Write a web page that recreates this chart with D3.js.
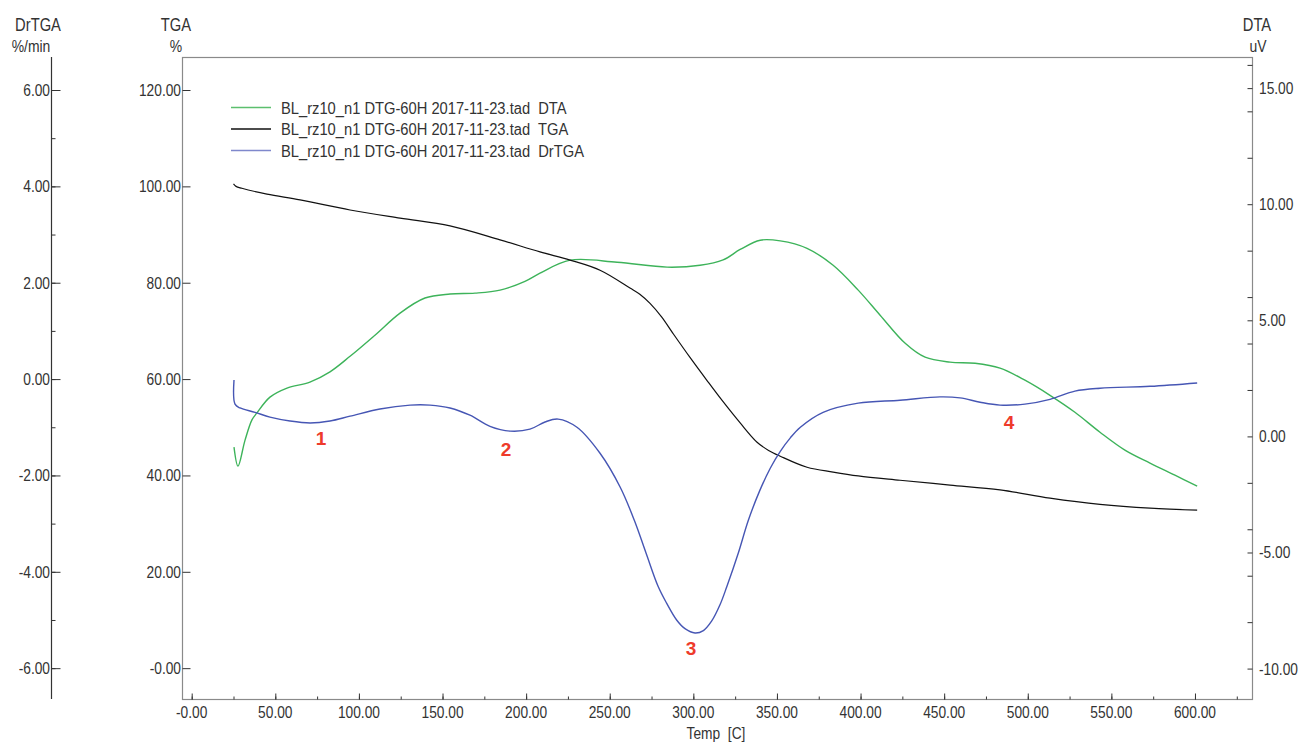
<!DOCTYPE html>
<html>
<head>
<meta charset="utf-8">
<script src="https://cdn.jsdelivr.net/npm/d3@7/dist/d3.min.js"></script>
<style>
  html, body { margin: 0; padding: 0; background: #fff; }
  svg text { font-family: 'Liberation Sans', Arial, sans-serif; fill: #333; white-space: pre; }
</style>
</head>
<body>
<svg id="chart" width="1304" height="743"></svg>
<script>
// ---- data: [temperature °C, value] ----
const dtaData = [
  [25.3, -0.46], [27.7, -1.28], [31.9, -0.16], [36.1, 0.72], [38.9, 1.0], [46.8, 1.69],
  [57.0, 2.08], [70.7, 2.34], [82.7, 2.78], [94.7, 3.45], [109.6, 4.36],
  [124.6, 5.31], [139.5, 5.96], [154.5, 6.13], [169.4, 6.17], [184.4, 6.3], [199.3, 6.68],
  [208.3, 7.03], [226.3, 7.59], [254.4, 7.5], [284.3, 7.29], [304.0, 7.37], [317.8, 7.6],
  [328.0, 8.05], [340.0, 8.45], [352.0, 8.42], [368.0, 8.1], [383.6, 7.37], [398.6, 6.3], [411.7, 5.22],
  [426.7, 4.01], [438.6, 3.41], [453.5, 3.2], [468.5, 3.15], [483.4, 2.94], [498.3, 2.42],
  [513.3, 1.77], [528.2, 1.04], [543.2, 0.18], [558.1, -0.59], [573.1, -1.15], [588.0, -1.67],
  [601.3, -2.14]
];
const tgaData = [
  [25.0, 100.5], [26.5, 100.0], [30.0, 99.6], [45.0, 98.4], [64.8, 97.2], [94.7, 95.1],
  [124.6, 93.4], [154.5, 91.8], [184.4, 88.9], [208.3, 86.4], [226.3, 84.7], [244.2, 82.6],
  [262.1, 78.9], [268.0, 77.6], [274.1, 75.7], [281.0, 72.9], [287.8, 69.5], [298.0, 64.5],
  [308.2, 59.7], [317.8, 55.3], [328.0, 50.9], [338.1, 46.9], [345.0, 45.2], [352.0, 44.0],
  [368.0, 41.7], [383.6, 40.7], [398.6, 39.9], [423.6, 39.0], [453.5, 38.0], [483.4, 37.0],
  [513.3, 35.3], [543.2, 34.0], [573.1, 33.2], [601.3, 32.8]
];
const drtgaData = [
  [25.3, -0.02], [25.9, -0.52], [28.9, -0.6], [37.9, -0.69], [46.8, -0.79], [58.8, -0.87],
  [70.8, -0.91], [82.7, -0.87], [94.7, -0.77], [112.6, -0.62], [130.6, -0.54], [142.5, -0.54],
  [154.5, -0.6], [166.4, -0.75], [178.4, -0.98], [190.4, -1.08], [202.3, -1.04], [211.3, -0.89],
  [219.1, -0.83], [230.4, -1.0], [244.2, -1.54], [256.2, -2.24], [264.7, -2.93], [271.7, -3.61],
  [278.9, -4.3], [284.0, -4.65], [290.0, -5.0], [295.0, -5.18], [301.0, -5.27], [306.0, -5.22],
  [311.0, -5.02], [316.0, -4.68], [320.0, -4.31], [326.9, -3.61], [332.9, -2.93], [339.9, -2.3],
  [346.0, -1.85], [352.0, -1.5], [358.0, -1.22], [364.0, -1.0], [377.6, -0.69], [398.6, -0.5],
  [423.6, -0.44], [447.5, -0.37], [459.5, -0.39], [471.5, -0.48], [483.4, -0.54], [498.3, -0.52],
  [513.3, -0.42], [528.2, -0.25], [543.2, -0.19], [573.1, -0.15], [601.3, -0.08]
];

// ---- tick labels ----
const tempTicks = [0, 50, 100, 150, 200, 250, 300, 350, 400, 450, 500, 550, 600];
const tempTickLabels = ["-0.00", "50.00", "100.00", "150.00", "200.00", "250.00", "300.00",
  "350.00", "400.00", "450.00", "500.00", "550.00", "600.00"];
const tgaTicks = [0, 20, 40, 60, 80, 100, 120];
const tgaTickLabels = ["-0.00", "20.00", "40.00", "60.00", "80.00", "100.00", "120.00"];
const drtgaTicks = [-6, -4, -2, 0, 2, 4, 6];
const drtgaTickLabels = ["-6.00", "-4.00", "-2.00", "0.00", "2.00", "4.00", "6.00"];
const dtaTicks = [-10, -5, 0, 5, 10, 15];
const dtaTickLabels = ["-10.00", "-5.00", "0.00", "5.00", "10.00", "15.00"];

// ---- peak markers on the DrTGA curve: [temperature, DrTGA position, label] ----
const peaks = [[77.3, -1.22, "1"], [188.0, -1.45, "2"], [298.6, -5.58, "3"], [488.8, -0.89, "4"]];

const legendItems = [
  { label: "BL_rz10_n1 DTG-60H 2017-11-23.tad  DTA", color: "#5cbf6e" },
  { label: "BL_rz10_n1 DTG-60H 2017-11-23.tad  TGA", color: "#111" },
  { label: "BL_rz10_n1 DTG-60H 2017-11-23.tad  DrTGA", color: "#7f88cc" }
];

const colors = { dta: "#3db35a", tga: "#111111", drtga: "#4656b4", peak: "#ee3b2b" };

// ---- layout ----
const plot = { left: 182, right: 1252, top: 57, bottom: 699 };
const drAxisX = 51;

const x = d3.scaleLinear().domain([-5.8, 634.1]).range([plot.left, plot.right]);
const yTga = d3.scaleLinear().domain([-6.4, 126.85]).range([plot.bottom, plot.top]);
const yDr = d3.scaleLinear().domain([-6.64, 6.685]).range([plot.bottom, plot.top]);
const yDta = d3.scaleLinear().domain([-11.31, 16.34]).range([plot.bottom, plot.top]);

const svg = d3.select("#chart");

// condensed text: placed with a transform so the anchor point stays put
function label(parent, tx, ty, str, opts = {}) {
  return parent.append("text")
    .attr("transform", `translate(${tx},${ty}) scale(${opts.sx || 0.86},1)`)
    .attr("text-anchor", opts.anchor || "start")
    .attr("font-size", opts.size || 16)
    .text(str);
}

// plot frame
svg.append("rect")
  .attr("x", plot.left + 0.5).attr("y", plot.top + 0.5)
  .attr("width", plot.right - plot.left).attr("height", plot.bottom - plot.top)
  .attr("fill", "none").attr("stroke", "#8a8a8a").attr("stroke-width", 1.2);

// temperature axis (ticks point up into the plot)
const xMinor = svg.append("g").attr("transform", `translate(0,${plot.bottom + 0.5})`);
xMinor.call(d3.axisTop(x).tickValues(d3.range(0, 626, 25)).tickSize(3).tickFormat(""))
  .call(g => g.select(".domain").remove());
xMinor.selectAll(".tick line").attr("stroke", "#333");
const xMajor = svg.append("g").attr("transform", `translate(0,${plot.bottom + 0.5})`);
xMajor.call(d3.axisTop(x).tickValues(tempTicks).tickSize(6).tickFormat(""))
  .call(g => g.select(".domain").remove());
xMajor.selectAll(".tick line").attr("stroke", "#333");
const xLabels = svg.append("g");
tempTicks.forEach((d, i) => label(xLabels, x(d), 718, tempTickLabels[i], { anchor: "middle" }));
label(svg, 716, 739, "Temp  [C]", { anchor: "middle" });

// TGA axis on the frame's left edge
const tgaAxis = svg.append("g").attr("transform", `translate(${plot.left + 0.5},0)`);
tgaAxis.call(d3.axisRight(yTga).tickValues(tgaTicks).tickSize(8).tickFormat(""))
  .call(g => g.select(".domain").remove());
tgaAxis.selectAll(".tick line").attr("stroke", "#333");
const tgaLabels = svg.append("g");
tgaTicks.forEach((d, i) => label(tgaLabels, plot.left - 1, yTga(d) + 6, tgaTickLabels[i], { anchor: "end" }));
label(svg, 176, 31, "TGA", { anchor: "middle", size: 18, sx: 0.82 });
label(svg, 176, 52, "%", { anchor: "middle", size: 17, sx: 0.82 });

// DrTGA axis, detached on the far left
const drMinor = svg.append("g").attr("transform", `translate(${drAxisX + 0.5},0)`);
drMinor.call(d3.axisRight(yDr).tickValues(d3.range(-6, 6.5, 1)).tickSize(4).tickFormat(""))
  .call(g => g.select(".domain").remove());
drMinor.selectAll(".tick line").attr("stroke", "#333");
const drMajor = svg.append("g").attr("transform", `translate(${drAxisX + 0.5},0)`);
drMajor.call(d3.axisRight(yDr).tickValues(drtgaTicks).tickSize(9).tickFormat(""))
  .call(g => g.select(".domain").remove());
drMajor.selectAll(".tick line").attr("stroke", "#333");
svg.append("line").attr("x1", drAxisX + 0.5).attr("x2", drAxisX + 0.5)
  .attr("y1", plot.top).attr("y2", plot.bottom).attr("stroke", "#333").attr("stroke-width", 1.2);
const drLabels = svg.append("g");
drtgaTicks.forEach((d, i) => label(drLabels, drAxisX - 1, yDr(d) + 6, drtgaTickLabels[i], { anchor: "end" }));
label(svg, 38, 31, "DrTGA", { anchor: "middle", size: 18, sx: 0.82 });
label(svg, 31, 52, "%/min", { anchor: "middle", size: 17, sx: 0.82 });

// DTA axis on the frame's right edge (ticks point inward)
const dtaAxis = svg.append("g").attr("transform", `translate(${plot.right + 0.5},0)`);
dtaAxis.call(d3.axisLeft(yDta)
    .tickValues(d3.range(-10, 17, 1).filter(v => v % 2 === 0 || v % 5 === 0))
    .tickSize(5).tickFormat(""))
  .call(g => g.select(".domain").remove());
dtaAxis.selectAll(".tick line").attr("stroke", "#333");
const dtaLabels = svg.append("g");
dtaTicks.forEach((d, i) => label(dtaLabels, plot.right + 7, yDta(d) + 6, dtaTickLabels[i]));
label(svg, 1257, 31, "DTA", { anchor: "middle", size: 18, sx: 0.82 });
label(svg, 1258, 52, "uV", { anchor: "middle", size: 17, sx: 0.82 });

// curves
const curve = d3.curveCatmullRom.alpha(0.5);
const lineDta = d3.line().x(d => x(d[0])).y(d => yDta(d[1])).curve(curve);
const lineTga = d3.line().x(d => x(d[0])).y(d => yTga(d[1])).curve(curve);
const lineDr = d3.line().x(d => x(d[0])).y(d => yDr(d[1])).curve(curve);

svg.append("path").datum(dtaData).attr("d", lineDta)
  .attr("fill", "none").attr("stroke", colors.dta).attr("stroke-width", 1.4);
svg.append("path").datum(tgaData).attr("d", lineTga)
  .attr("fill", "none").attr("stroke", colors.tga).attr("stroke-width", 1.2);
svg.append("path").datum(drtgaData).attr("d", lineDr)
  .attr("fill", "none").attr("stroke", colors.drtga).attr("stroke-width", 1.4);

// legend
const legend = svg.append("g");
legendItems.forEach((item, i) => {
  const ly = 107.5 + i * 21.5;
  legend.append("line").attr("x1", 231).attr("x2", 271).attr("y1", ly).attr("y2", ly)
    .attr("stroke", item.color).attr("stroke-width", 1.4);
  label(legend, 281, ly + 6, item.label, { sx: 0.92 });
});

// numbered peak markers
svg.append("g").selectAll("text").data(peaks).join("text")
  .attr("x", d => x(d[0])).attr("y", d => yDr(d[1]) + 7)
  .attr("text-anchor", "middle").attr("font-size", 19).attr("font-weight", "bold")
  .style("fill", colors.peak)
  .text(d => d[2]);
</script>
</body>
</html>
